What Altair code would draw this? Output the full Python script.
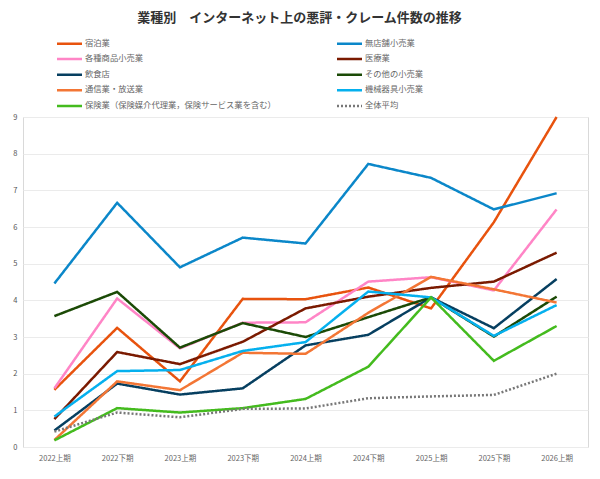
import altair as alt
import pandas as pd

periods = ["2022上期", "2022下期", "2023上期", "2023下期", "2024上期",
           "2024下期", "2025上期", "2025下期", "2026上期"]

series_names = ["宿泊業", "無店舗小売業", "各種商品小売業", "医療業", "飲食店",
                "その他の小売業", "通信業・放送業", "機械器具小売業",
                "保険業（保険媒介代理業，保険サービス業を含む）", "全体平均"]

shukuhaku = [1.56, 3.25, 1.79, 4.04, 4.03, 4.35, 3.78, 6.13, 9.00]
mutenpo = [4.46, 6.66, 4.90, 5.71, 5.55, 7.72, 7.34, 6.48, 6.92]
kakushu = [1.60, 4.05, 2.69, 3.39, 3.40, 4.51, 4.63, 4.27, 6.48]
iryo = [0.76, 2.59, 2.26, 2.87, 3.78, 4.10, 4.34, 4.51, 5.30]
inshoku = [0.45, 1.73, 1.43, 1.60, 2.77, 3.06, 4.08, 3.24, 4.58]
sonota = [3.57, 4.23, 2.71, 3.38, 3.00, 3.54, 4.08, 3.01, 4.10]
tsushin = [0.19, 1.79, 1.55, 2.57, 2.54, 3.66, 4.64, 4.30, 3.94]
kikai = [0.83, 2.07, 2.10, 2.62, 2.86, 4.24, 4.08, 3.03, 3.87]
hoken = [0.18, 1.06, 0.94, 1.06, 1.31, 2.19, 4.08, 2.35, 3.30]
heikin = [0.42, 0.94, 0.81, 1.04, 1.05, 1.33, 1.38, 1.42, 2.00]

colors = ["#e8530e", "#0b87c9", "#ff85c6", "#7a1a00", "#063f60",
          "#1b4a06", "#f37635", "#05b0ee", "#44bb1e", "#777777"]
dashes = [[1, 0]] * 9 + [[2, 2]]

all_values = [shukuhaku, mutenpo, kakushu, iryo, inshoku, sonota,
              tsushin, kikai, hoken, heikin]

rows = []
for name, vals in zip(series_names, all_values):
    for p, v in zip(periods, vals):
        rows.append({"期間": p, "系列": name, "件数": v})
df = pd.DataFrame(rows)

FONT = "Noto Sans CJK JP"

legend = alt.Legend(
    title=None,
    orient="none",
    legendX=40,
    legendY=-80,
    columns=2,
    direction="horizontal",
    columnPadding=56,
    rowPadding=3.6,
    padding=0,
    symbolType="M-2.5,0H2.5",
    symbolSize=100,
    symbolStrokeWidth=2.5,
    labelOffset=9,
    labelFontSize=8.3,
    labelFont=FONT,
    labelColor="#666666",
    labelLimit=400,
)

chart = alt.Chart(df).mark_line(strokeWidth=2.5).encode(
    x=alt.X("期間:N", sort=periods,
            scale=alt.Scale(type="point", padding=0.5),
            axis=alt.Axis(title=None, labelAngle=0, ticks=False, domain=False,
                          grid=False, labelFontSize=7.5, labelFont=FONT,
                          labelColor="#666666", labelPadding=7)),
    y=alt.Y("件数:Q", scale=alt.Scale(domain=[0, 9], nice=False),
            axis=alt.Axis(title=None, values=list(range(10)), ticks=False,
                          domain=False, labelFontSize=7.5, labelFont=FONT,
                          labelColor="#555555", labelPadding=6,
                          gridColor="#ebebeb", gridWidth=1)),
    color=alt.Color("系列:N", sort=series_names,
                    scale=alt.Scale(domain=series_names, range=colors),
                    legend=legend),
    strokeDash=alt.StrokeDash("系列:N", sort=series_names,
                              scale=alt.Scale(domain=series_names, range=dashes),
                              legend=legend),
    order=alt.Order("期間:N"),
).properties(
    width=565,
    height=330,
    title=alt.TitleParams(
        text="業種別　インターネット上の悪評・クレーム件数の推移",
        fontSize=13, fontWeight="bold", color="#333333", font=FONT,
        anchor="middle", offset=12, dx=-6),
    autosize=alt.AutoSizeParams(type="none"),
    padding={"left": 15, "top": 109, "right": 4, "bottom": 24},
    background="white",
).configure_view(
    stroke="#d9d9d9", strokeWidth=1
)

chart.save("out.html", embed_options={"renderer": "svg", "actions": False})
